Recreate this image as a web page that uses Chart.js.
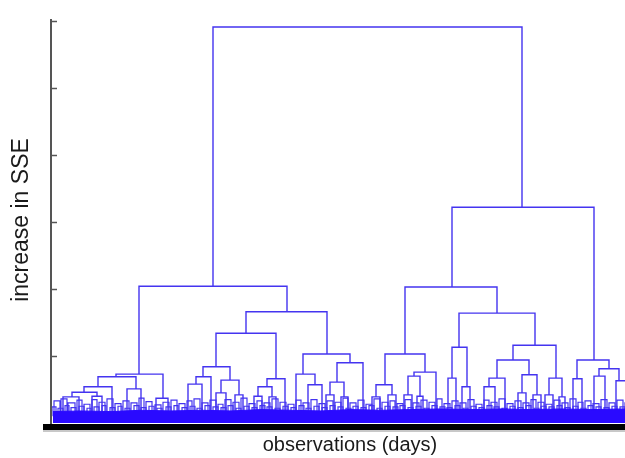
<!DOCTYPE html>
<html>
<head>
<meta charset="utf-8">
<script src="https://cdn.jsdelivr.net/npm/chart.js@4"></script>
<style>
  body { margin: 0; background: #fff; }
  canvas { display: block; }
</style>
</head>
<body>
<canvas id="dendro" width="625" height="458"></canvas>
<script>
// merges: [left obs, right obs, merge height, left child height, right child height]
var leftLinks = [
  [162, 471, 5.91, 2.04, 3.22],
  [88, 236, 2.04, 0.73, 1.66],
  [65, 112, 0.73, 0.69, 0.37],
  [47, 85, 0.69, 0.54, 0.51],
  [33, 61, 0.54, 0.46, 0.15],
  [21, 46, 0.46, 0.39, 0.40],
  [12, 28, 0.39, 0.15, 0.15],
  [41, 51, 0.40, 0.15, 0.15],
  [76, 90, 0.51, 0.15, 0.15],
  [105, 117, 0.37, 0.15, 0.15],
  [195, 276, 1.66, 1.34, 1.03],
  [165, 225, 1.34, 0.84, 0.66],
  [152, 179, 0.84, 0.69, 0.64],
  [145, 160, 0.69, 0.58, 0.15],
  [137, 151, 0.58, 0.15, 0.15],
  [170, 188, 0.64, 0.45, 0.42],
  [165, 175, 0.45, 0.15, 0.15],
  [184, 192, 0.42, 0.15, 0.15],
  [216, 234, 0.66, 0.54, 0.15],
  [207, 221, 0.54, 0.40, 0.39],
  [203, 211, 0.40, 0.15, 0.15],
  [218, 225, 0.39, 0.15, 0.15],
  [252, 299, 1.03, 0.73, 0.90],
  [245, 264, 0.73, 0.15, 0.57],
  [257, 271, 0.57, 0.15, 0.15],
  [286, 312, 0.90, 0.61, 0.15],
  [279, 293, 0.61, 0.42, 0.39],
  [275, 283, 0.42, 0.15, 0.15],
  [290, 297, 0.39, 0.15, 0.15]
];

var rightLinks = [
  [401, 543, 3.22, 2.03, 0.94],
  [354, 446, 2.03, 1.03, 1.64],
  [334, 374, 1.03, 0.57, 0.76],
  [325, 341, 0.57, 0.39, 0.42],
  [321, 329, 0.39, 0.15, 0.15],
  [337, 345, 0.42, 0.15, 0.15],
  [363, 385, 0.76, 0.70, 0.15],
  [357, 369, 0.70, 0.42, 0.40],
  [353, 361, 0.42, 0.15, 0.15],
  [366, 372, 0.40, 0.15, 0.15],
  [408, 484, 1.64, 1.13, 1.16],
  [401, 416, 1.13, 0.67, 0.54],
  [397, 405, 0.67, 0.15, 0.15],
  [411, 419, 0.54, 0.15, 0.15],
  [462, 505, 1.16, 0.94, 0.67],
  [446, 478, 0.94, 0.67, 0.72],
  [438, 454, 0.67, 0.54, 0.15],
  [433, 444, 0.54, 0.15, 0.15],
  [471, 486, 0.72, 0.45, 0.42],
  [467, 475, 0.45, 0.15, 0.15],
  [482, 490, 0.42, 0.15, 0.15],
  [498, 511, 0.67, 0.42, 0.39],
  [494, 502, 0.42, 0.15, 0.15],
  [508, 514, 0.39, 0.15, 0.15],
  [526, 558, 0.94, 0.66, 0.81],
  [522, 531, 0.66, 0.15, 0.15],
  [548, 568, 0.81, 0.70, 0.63],
  [543, 554, 0.70, 0.15, 0.15],
  [565, 577, 0.63, 0.15, 0.15]
];

// small low merges along the bottom: [left obs, right obs, height]
var twigs = [
  [3,9,0.33],[10,16,0.36],[17,24,0.30],[26,31,0.34],[33,39,0.28],[41,46,0.35],[48,54,0.31],
  [56,62,0.36],[64,70,0.29],[72,78,0.33],[80,86,0.30],[88,93,0.37],[95,101,0.32],[104,110,0.27],
  [112,118,0.31],[120,126,0.34],[128,134,0.29],[136,141,0.33],[143,149,0.36],[151,157,0.30],
  [159,165,0.34],[167,172,0.28],[174,180,0.35],[182,188,0.31],[190,196,0.37],[198,204,0.29],
  [206,211,0.33],[213,219,0.30],[221,227,0.36],[229,235,0.31],[237,243,0.28],[245,250,0.34],
  [252,258,0.30],[260,266,0.35],[268,274,0.29],[276,282,0.33],[284,290,0.31],[292,297,0.37],
  [299,305,0.30],[307,313,0.34],[315,321,0.28],[323,329,0.36],[331,337,0.31],[339,344,0.33],
  [346,352,0.29],[354,360,0.35],[362,368,0.30],[370,376,0.34],[378,384,0.31],[386,391,0.36],
  [393,399,0.29],[401,407,0.33],[409,415,0.30],[417,423,0.35],[425,431,0.28],[433,438,0.34],
  [440,446,0.31],[448,454,0.36],[456,462,0.29],[464,470,0.33],[472,478,0.30],[480,485,0.35],
  [487,493,0.31],[495,501,0.28],[503,509,0.34],[511,517,0.30],[519,525,0.36],[527,532,0.31],
  [534,540,0.33],[542,548,0.29],[550,556,0.35],[558,564,0.30],[566,572,0.34],[574,578,0.31]
];

var lowTwigs = [
  [1,5,0.24],[7,12,0.22],[14,18,0.26],[20,25,0.23],[28,33,0.25],[36,40,0.22],[43,48,0.24],
  [51,55,0.26],[59,64,0.23],[67,71,0.25],[74,79,0.22],[83,88,0.26],[90,95,0.23],[98,103,0.25],
  [106,111,0.22],[115,120,0.24],[123,127,0.26],[131,136,0.23],[139,144,0.25],[146,151,0.22],
  [154,159,0.26],[162,167,0.24],[170,175,0.23],[177,182,0.26],[185,190,0.22],[193,198,0.25],
  [201,206,0.23],[209,214,0.26],[216,221,0.24],[224,229,0.22],[232,237,0.25],[240,245,0.23],
  [248,253,0.26],[255,260,0.22],[263,268,0.25],[271,276,0.23],[279,284,0.26],[287,292,0.24],
  [295,300,0.22],[302,307,0.25],[310,315,0.23],[318,323,0.26],[326,331,0.22],[334,339,0.25],
  [342,347,0.24],[349,354,0.26],[357,362,0.23],[365,370,0.25],[373,378,0.22],[381,386,0.26],
  [389,394,0.24],[396,401,0.23],[404,409,0.26],[412,417,0.22],[420,425,0.25],[428,433,0.23],
  [436,441,0.26],[443,448,0.24],[451,456,0.22],[459,464,0.25],[467,472,0.23],[475,480,0.26],
  [483,488,0.22],[490,495,0.25],[498,503,0.24],[506,511,0.26],[514,519,0.23],[522,527,0.25],
  [530,535,0.22],[537,542,0.26],[545,550,0.24],[553,558,0.23],[561,566,0.25],[569,574,0.24]
];

// dense leaf mass at the bottom
var fringeX = [2, 30, 60, 90, 120, 150, 180, 210, 240, 270, 300, 330, 360, 390, 420, 450, 480, 510, 540, 574];
var fringeH = [0.17, 0.18, 0.17, 0.19, 0.18, 0.19, 0.18, 0.20, 0.19, 0.18, 0.20, 0.19, 0.20, 0.21, 0.20, 0.21, 0.20, 0.21, 0.20, 0.21];

var yTicks = [1, 2, 3, 4, 5, 6];

function linkPoints(list) {
  var pts = [];
  list.forEach(function (l) {
    var h1 = l.length > 3 ? l[3] : 0.1;
    var h2 = l.length > 4 ? l[4] : 0.1;
    pts.push({x: l[0], y: h1}, {x: l[0], y: l[2]}, {x: l[1], y: l[2]}, {x: l[1], y: h2}, {x: l[1], y: null});
  });
  return pts;
}

var lineColor = '#4434f0';

var axesPlugin = {
  id: 'axes',
  afterDraw: function (chart) {
    var ctx = chart.ctx;
    var y = chart.scales.y;
    ctx.save();
    ctx.strokeStyle = '#555';
    ctx.lineWidth = 2;
    ctx.beginPath();
    ctx.moveTo(51, 19);
    ctx.lineTo(51, 425);
    ctx.stroke();
    ctx.lineWidth = 1.5;
    yTicks.forEach(function (t) {
      var py = Math.round(y.getPixelForValue(t)) + 0.5;
      ctx.beginPath();
      ctx.moveTo(51, py);
      ctx.lineTo(57, py);
      ctx.stroke();
    });
    ctx.fillStyle = '#000';
    ctx.fillRect(43, 424, 582, 6);
    ctx.fillStyle = '#c8c8c8';
    ctx.fillRect(43, 430, 582, 2);

    ctx.fillStyle = '#1a1a1a';
    ctx.font = '20px "Liberation Sans", Arial, sans-serif';
    ctx.textAlign = 'center';
    ctx.textBaseline = 'middle';
    ctx.fillText('observations (days)', 350, 445);
    ctx.font = '23px "Liberation Sans", Arial, sans-serif';
    ctx.translate(22, 220);
    ctx.rotate(-Math.PI / 2);
    ctx.fillText('increase in SSE', 0, 0);
    ctx.restore();
  }
};

new Chart(document.getElementById('dendro').getContext('2d'), {
  type: 'scatter',
  data: {
    datasets: [
      {
        data: fringeX.map(function (x, i) { return {x: x, y: fringeH[i]}; }),
        showLine: true,
        fill: 'origin',
        backgroundColor: '#2a0aff',
        borderColor: '#2a0aff',
        borderWidth: 1,
        pointRadius: 0
      },
      {
        data: linkPoints(lowTwigs),
        showLine: true,
        spanGaps: false,
        borderColor: lineColor,
        borderWidth: 1.2,
        pointRadius: 0
      },
      {
        data: linkPoints(twigs),
        showLine: true,
        spanGaps: false,
        borderColor: lineColor,
        borderWidth: 1.2,
        pointRadius: 0
      },
      {
        data: linkPoints(leftLinks),
        showLine: true,
        spanGaps: false,
        borderColor: lineColor,
        borderWidth: 1.4,
        pointRadius: 0
      },
      {
        data: linkPoints(rightLinks),
        showLine: true,
        spanGaps: false,
        borderColor: lineColor,
        borderWidth: 1.4,
        pointRadius: 0
      }
    ]
  },
  options: {
    responsive: false,
    animation: false,
    layout: { padding: { left: 51, right: 0, top: 21, bottom: 35 } },
    plugins: { legend: { display: false }, tooltip: { enabled: false } },
    scales: {
      x: { type: 'linear', min: 0, max: 574, display: false },
      y: { min: 0, max: 6, display: false }
    }
  },
  plugins: [axesPlugin]
});
</script>
</body>
</html>
